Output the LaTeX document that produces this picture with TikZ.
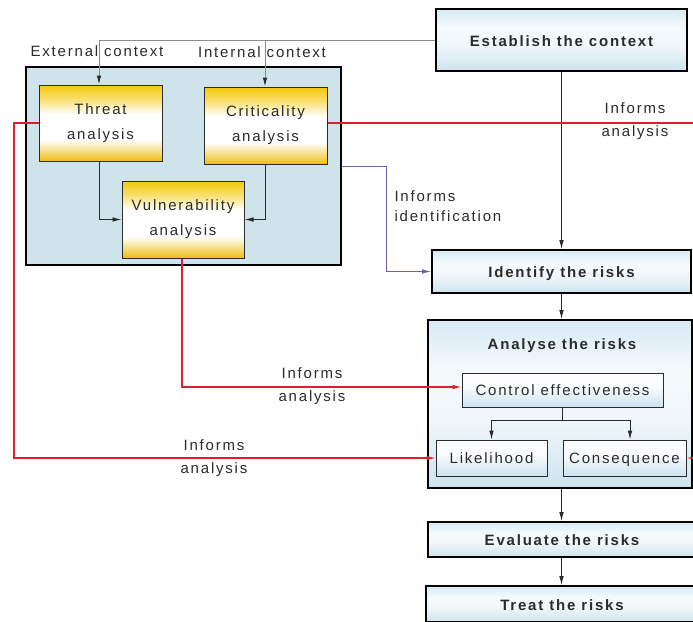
\documentclass[tikz,border=0pt]{standalone}
\usepackage{fontspec}
\setmainfont{Liberation Sans}[LetterSpace=12]
\usetikzlibrary{arrows.meta,calc}

\definecolor{redline}{HTML}{D8232F}
\definecolor{blueline}{HTML}{6A62A8}
\definecolor{ctxgray}{HTML}{8C8C8C}
\definecolor{panel}{HTML}{CFE3EA}
\definecolor{gold}{HTML}{F5C80A}
\definecolor{goldlow}{HTML}{EEBE10}
\definecolor{skytop}{HTML}{D6EAF4}
\definecolor{skybot}{HTML}{CCE3EE}
\definecolor{ink}{HTML}{2B2B2B}

% vertical shadings: the node's height maps onto 25bp (bottom) .. 75bp (top)
\pgfdeclareverticalshading{goldbar}{100bp}{color(0bp)=(goldlow); color(25bp)=(goldlow); color(31bp)=(goldlow!55!white); color(39bp)=(white); color(56bp)=(white); color(66bp)=(gold!60!white); color(75bp)=(gold); color(100bp)=(gold)}
\pgfdeclareverticalshading{skybar}{100bp}{color(0bp)=(skybot); color(25bp)=(skybot); color(45bp)=(white!70!skybot); color(60bp)=(white!75!skytop); color(75bp)=(skytop); color(100bp)=(skytop)}
\pgfdeclareverticalshading{skysoft}{100bp}{color(0bp)=(skybot); color(25bp)=(skybot); color(55bp)=(white!85!skytop); color(75bp)=(white!90!skytop); color(100bp)=(white!90!skytop)}

\tikzset{
  every node/.style={text=ink, font=\fontsize{15}{18}\selectfont},
  stage/.style={draw=black, line width=1.8pt, shading=skybar, inner sep=0pt,
    text height=13pt, text depth=1pt,
    font=\bfseries\fontsize{15}{18}\selectfont},
  factor/.style={draw=ink, line width=1pt, shading=goldbar, inner sep=0pt,
    align=center, font=\fontsize{15}{25}\selectfont},
  subbox/.style={draw=ink, line width=0.9pt, shading=skysoft, inner sep=0pt,
    text height=12.5pt, text depth=1.5pt},
  panelbox/.style={draw=black, line width=2.2pt, fill=panel, inner sep=0pt},
  note/.style={align=center, font=\fontsize{15}{23}\selectfont},
  tip/.style={-{Latex[length=9pt,width=4.6pt]}},
  flow/.style={draw=ink, line width=0.9pt, tip},
  flowline/.style={draw=ink, line width=0.9pt},
  ctxline/.style={draw=ctxgray, line width=1pt},
  ctxflow/.style={draw=ctxgray, line width=1pt, -{Latex[length=9pt,width=4.6pt,fill=ink,color=ink]}},
  redplain/.style={draw=redline, line width=1.1pt},
  redflow/.style={draw=redline, line width=1.1pt, tip},
  blueflow/.style={draw=blueline, line width=1pt, tip},
}

\begin{document}
\begin{tikzpicture}[x=1pt,y=-1pt]
\useasboundingbox (0,0) rectangle (693,621);
\clip (0,0) rectangle (693,621);

% risk factor panel
\node[panelbox, minimum width=315pt, minimum height=198pt] (cont) at (183.5,166) {};
\node[factor, minimum width=123pt, minimum height=76pt] (thr) at (100.5,123) {Threat\\analysis};
\node[factor, minimum width=123pt, minimum height=77pt] (cri) at (265.5,125.5) {Criticality\\analysis};
\node[factor, minimum width=122pt, minimum height=77pt] (vul) at (183,219.5) {Vulnerability\\analysis};

% process stages
\node[stage, minimum width=251pt, minimum height=62pt] (est) at (561.5,40) {Establish the context};
\node[stage, minimum width=259pt, minimum height=43pt] (idr) at (561.5,271.5) {Identify the risks};
\node[stage, minimum width=264pt, minimum height=168pt] (ana) at (560,404) {};
\node[font=\bfseries\fontsize{15}{18}\selectfont] (anat) at (562,346) {Analyse the risks};
\node[subbox, minimum width=201pt, minimum height=34pt] (ctl) at (562.5,390) {Control effectiveness};
\node[subbox, minimum width=111pt, minimum height=36pt] (lik) at (491.5,458) {Likelihood};
\node[subbox, minimum width=123pt, minimum height=36pt] (con) at (624.5,458) {Consequence};
\node[stage, minimum width=268pt, minimum height=35pt] (eva) at (562,539.5) {Evaluate the risks};
\node[stage, minimum width=272pt, minimum height=36pt] (trt) at (562,604) {Treat the risks};

% context feeds
\coordinate (cx1) at (99,40);
\coordinate (cx2) at (265,40);
\draw[ctxline] (est.west) -- (cx1);
\draw[ctxflow] (cx1) -- (cx1 |- thr.north);
\draw[ctxflow] (cx2) -- (cx2 |- cri.north);
\node (extl) at (97,51) {External context};
\node (intl) at (262,52) {Internal context};

% inside the panel
\draw[flow] (cx1 |- thr.south) |- (vul.west);
\draw[flow] (cx2 |- cri.south) |- (vul.east);

% main sequence
\draw[flow] (est.south) -- (idr.north);
\draw[flow] (idr.south) -- (idr.south |- ana.north);
\draw[flow] (idr.south |- ana.south) -- (idr.south |- eva.north);
\draw[flow] (idr.south |- eva.south) -- (idr.south |- trt.north);

% analysis breakdown
\coordinate (sp) at ($(ctl.south)+(0,13)$);
\coordinate (cn) at ([xshift=5.5pt]con.north);
\draw[flowline] (ctl.south) -- (sp);
\draw[flow] (sp) -| (lik.north);
\draw[flow] (sp) -| (cn);

% information links
\coordinate (rl) at (14,0);
\coordinate (rv) at (182,0);
\coordinate (redin) at (720,458);
\draw[redflow] (thr.west) -- (rl |- thr.west) |- (lik.west);
\draw[redplain] (cri.east |- thr.west) -- (720,123);
\draw[redflow] (rv |- vul.south) |- ([yshift=3pt]ctl.west);
\draw[redflow] (redin) -- (con.east);
\coordinate (bl) at (386,0);
\draw[blueflow] (cont.east) -- (bl |- cont.east) |- (idr.west);

\node[note] (n1) at (635,121.5) {Informs\\analysis};
\node[note] (n2) at (312,386.5) {Informs\\analysis};
\node[note] (n3) at (214,458.5) {Informs\\analysis};
\node[align=left, anchor=west, font=\fontsize{15}{20}\selectfont] (n4) at (391,206) {Informs\\identification};
\end{tikzpicture}
\end{document}
